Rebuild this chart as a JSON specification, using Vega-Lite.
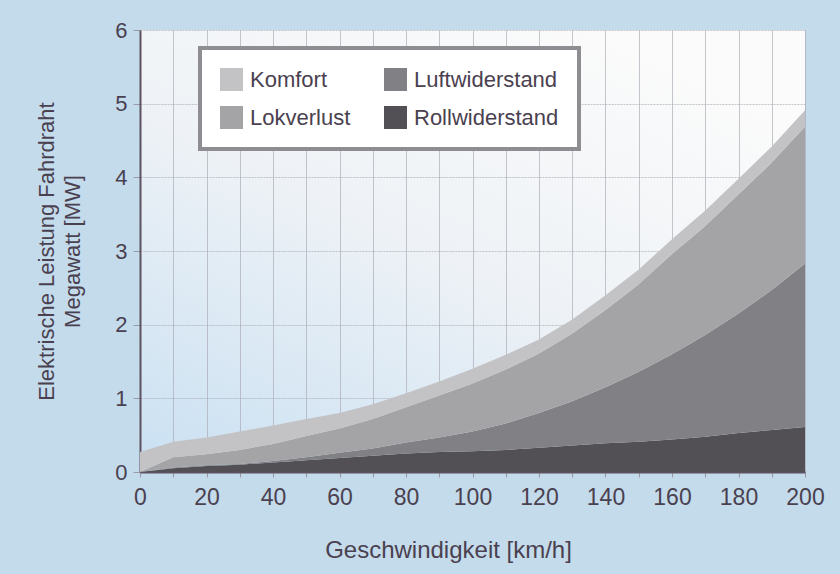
{
  "$schema": "https://vega.github.io/schema/vega-lite/v6.json",
  "width": 665,
  "height": 442,
  "autosize": {"type": "none"},
  "padding": {"left": 140, "top": 30, "right": 35, "bottom": 102},
  "background": "#c4dbeb",
  "config": {
    "font": "Liberation Sans",
    "view": {
      "stroke": null,
      "fill": {
        "gradient": "linear",
        "x1": 0, "y1": 1, "x2": 0.7, "y2": 0,
        "stops": [
          {"offset": 0, "color": "#c9e0f2"},
          {"offset": 0.55, "color": "#eef2f6"},
          {"offset": 1, "color": "#fbfbfb"}
        ]
      }
    },
    "axis": {
      "labelFont": "Liberation Sans",
      "titleFont": "Liberation Sans",
      "labelFontSize": 22,
      "titleFontSize": 22,
      "titleFontWeight": "normal",
      "labelColor": "#4a4150",
      "titleColor": "#4a4150",
      "domainColor": "#5d5260",
      "domainWidth": 2,
      "gridColor": "#a8a8b2",
      "gridOpacity": 0.65,
      "gridWidth": 1,
      "tickColor": "#9a9aa4"
    }
  },
  "data": {
    "values": [
      {"v": 0, "Komponente": "Rollwiderstand", "MW": 0},
      {"v": 0, "Komponente": "Luftwiderstand", "MW": 0},
      {"v": 0, "Komponente": "Lokverlust", "MW": 0},
      {"v": 0, "Komponente": "Komfort", "MW": 0.27},
      {"v": 10, "Komponente": "Rollwiderstand", "MW": 0.05},
      {"v": 10, "Komponente": "Luftwiderstand", "MW": 0.01},
      {"v": 10, "Komponente": "Lokverlust", "MW": 0.14},
      {"v": 10, "Komponente": "Komfort", "MW": 0.21},
      {"v": 20, "Komponente": "Rollwiderstand", "MW": 0.08},
      {"v": 20, "Komponente": "Luftwiderstand", "MW": 0.01},
      {"v": 20, "Komponente": "Lokverlust", "MW": 0.15},
      {"v": 20, "Komponente": "Komfort", "MW": 0.23},
      {"v": 30, "Komponente": "Rollwiderstand", "MW": 0.10},
      {"v": 30, "Komponente": "Luftwiderstand", "MW": 0.01},
      {"v": 30, "Komponente": "Lokverlust", "MW": 0.19},
      {"v": 30, "Komponente": "Komfort", "MW": 0.25},
      {"v": 40, "Komponente": "Rollwiderstand", "MW": 0.13},
      {"v": 40, "Komponente": "Luftwiderstand", "MW": 0.02},
      {"v": 40, "Komponente": "Lokverlust", "MW": 0.23},
      {"v": 40, "Komponente": "Komfort", "MW": 0.25},
      {"v": 50, "Komponente": "Rollwiderstand", "MW": 0.16},
      {"v": 50, "Komponente": "Luftwiderstand", "MW": 0.04},
      {"v": 50, "Komponente": "Lokverlust", "MW": 0.29},
      {"v": 50, "Komponente": "Komfort", "MW": 0.23},
      {"v": 60, "Komponente": "Rollwiderstand", "MW": 0.19},
      {"v": 60, "Komponente": "Luftwiderstand", "MW": 0.07},
      {"v": 60, "Komponente": "Lokverlust", "MW": 0.33},
      {"v": 60, "Komponente": "Komfort", "MW": 0.21},
      {"v": 70, "Komponente": "Rollwiderstand", "MW": 0.22},
      {"v": 70, "Komponente": "Luftwiderstand", "MW": 0.10},
      {"v": 70, "Komponente": "Lokverlust", "MW": 0.40},
      {"v": 70, "Komponente": "Komfort", "MW": 0.20},
      {"v": 80, "Komponente": "Rollwiderstand", "MW": 0.25},
      {"v": 80, "Komponente": "Luftwiderstand", "MW": 0.15},
      {"v": 80, "Komponente": "Lokverlust", "MW": 0.48},
      {"v": 80, "Komponente": "Komfort", "MW": 0.19},
      {"v": 90, "Komponente": "Rollwiderstand", "MW": 0.27},
      {"v": 90, "Komponente": "Luftwiderstand", "MW": 0.20},
      {"v": 90, "Komponente": "Lokverlust", "MW": 0.57},
      {"v": 90, "Komponente": "Komfort", "MW": 0.19},
      {"v": 100, "Komponente": "Rollwiderstand", "MW": 0.28},
      {"v": 100, "Komponente": "Luftwiderstand", "MW": 0.27},
      {"v": 100, "Komponente": "Lokverlust", "MW": 0.65},
      {"v": 100, "Komponente": "Komfort", "MW": 0.20},
      {"v": 110, "Komponente": "Rollwiderstand", "MW": 0.30},
      {"v": 110, "Komponente": "Luftwiderstand", "MW": 0.36},
      {"v": 110, "Komponente": "Lokverlust", "MW": 0.73},
      {"v": 110, "Komponente": "Komfort", "MW": 0.20},
      {"v": 120, "Komponente": "Rollwiderstand", "MW": 0.33},
      {"v": 120, "Komponente": "Luftwiderstand", "MW": 0.47},
      {"v": 120, "Komponente": "Lokverlust", "MW": 0.81},
      {"v": 120, "Komponente": "Komfort", "MW": 0.19},
      {"v": 130, "Komponente": "Rollwiderstand", "MW": 0.36},
      {"v": 130, "Komponente": "Luftwiderstand", "MW": 0.60},
      {"v": 130, "Komponente": "Lokverlust", "MW": 0.92},
      {"v": 130, "Komponente": "Komfort", "MW": 0.19},
      {"v": 140, "Komponente": "Rollwiderstand", "MW": 0.39},
      {"v": 140, "Komponente": "Luftwiderstand", "MW": 0.76},
      {"v": 140, "Komponente": "Lokverlust", "MW": 1.05},
      {"v": 140, "Komponente": "Komfort", "MW": 0.20},
      {"v": 150, "Komponente": "Rollwiderstand", "MW": 0.41},
      {"v": 150, "Komponente": "Luftwiderstand", "MW": 0.95},
      {"v": 150, "Komponente": "Lokverlust", "MW": 1.19},
      {"v": 150, "Komponente": "Komfort", "MW": 0.20},
      {"v": 160, "Komponente": "Rollwiderstand", "MW": 0.44},
      {"v": 160, "Komponente": "Luftwiderstand", "MW": 1.16},
      {"v": 160, "Komponente": "Lokverlust", "MW": 1.36},
      {"v": 160, "Komponente": "Komfort", "MW": 0.20},
      {"v": 170, "Komponente": "Rollwiderstand", "MW": 0.48},
      {"v": 170, "Komponente": "Luftwiderstand", "MW": 1.38},
      {"v": 170, "Komponente": "Lokverlust", "MW": 1.48},
      {"v": 170, "Komponente": "Komfort", "MW": 0.21},
      {"v": 180, "Komponente": "Rollwiderstand", "MW": 0.53},
      {"v": 180, "Komponente": "Luftwiderstand", "MW": 1.62},
      {"v": 180, "Komponente": "Lokverlust", "MW": 1.62},
      {"v": 180, "Komponente": "Komfort", "MW": 0.21},
      {"v": 190, "Komponente": "Rollwiderstand", "MW": 0.57},
      {"v": 190, "Komponente": "Luftwiderstand", "MW": 1.90},
      {"v": 190, "Komponente": "Lokverlust", "MW": 1.73},
      {"v": 190, "Komponente": "Komfort", "MW": 0.22},
      {"v": 200, "Komponente": "Rollwiderstand", "MW": 0.61},
      {"v": 200, "Komponente": "Luftwiderstand", "MW": 2.22},
      {"v": 200, "Komponente": "Lokverlust", "MW": 1.86},
      {"v": 200, "Komponente": "Komfort", "MW": 0.22}
    ]
  },
  "mark": {"type": "area", "interpolate": "linear"},
  "encoding": {
    "x": {
      "field": "v",
      "type": "quantitative",
      "scale": {"domain": [0, 200], "nice": false},
      "axis": {
        "title": "Geschwindigkeit [km/h]",
        "values": [0, 10, 20, 30, 40, 50, 60, 70, 80, 90, 100, 110, 120, 130, 140, 150, 160, 170, 180, 190, 200],
        "labelExpr": "datum.value % 20 === 0 ? datum.label : ''",
        "labelFontSize": 23,
        "titleFontSize": 24,
        "tickSize": 5,
        "labelPadding": 9,
        "labelFlush": false,
        "labelOverlap": false,
        "titleX": 308,
        "titleY": 85,
        "titleAlign": "center",
        "titleBaseline": "alphabetic"
      }
    },
    "y": {
      "field": "MW",
      "type": "quantitative",
      "stack": "zero",
      "scale": {"domain": [0, 6], "nice": false},
      "axis": {
        "title": ["Elektrische Leistung Fahrdraht", "Megawatt [MW]"],
        "values": [0, 1, 2, 3, 4, 5, 6],
        "tickSize": 7,
        "labelPadding": 6,
        "labelFlush": false,
        "gridDash": [2, 1],
        "titlePadding": 30,
        "titleLineHeight": 26
      }
    },
    "color": {
      "field": "Komponente",
      "type": "nominal",
      "scale": {
        "domain": ["Komfort", "Luftwiderstand", "Lokverlust", "Rollwiderstand"],
        "range": ["#c3c3c6", "#818084", "#a4a4a7", "#525055"]
      },
      "legend": {
        "title": null,
        "orient": "none",
        "legendX": 60,
        "legendY": 18,
        "columns": 2,
        "direction": "horizontal",
        "symbolType": "square",
        "symbolSize": 529,
        "symbolStrokeWidth": 0,
        "symbolOpacity": 1,
        "labelFontSize": 22,
        "labelFont": "Liberation Sans",
        "labelColor": "#4a4150",
        "labelOffset": 7,
        "columnPadding": 33,
        "rowPadding": 15,
        "padding": 20,
        "fillColor": "#ffffff",
        "strokeColor": "#8e8e92",
        "encode": {
          "legend": {"update": {"strokeWidth": {"value": 4}}}
        }
      }
    },
    "order": {"field": "Komponente", "sort": "descending"}
  }
}
